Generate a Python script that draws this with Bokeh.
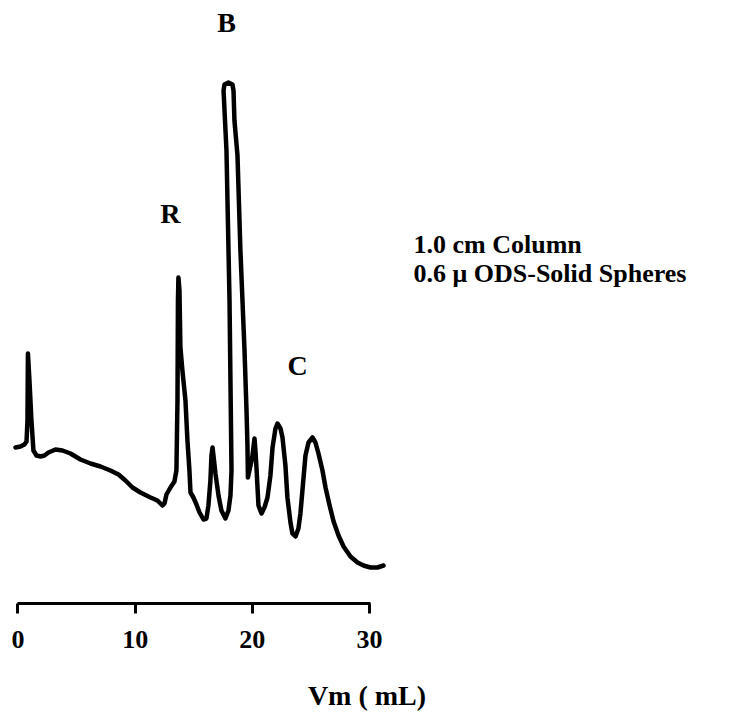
from bokeh.plotting import figure
from bokeh.models import Range1d, FixedTicker, Label, ColumnDataSource
from bokeh.embed import file_html
from bokeh.resources import INLINE

# Elution volume Vm (mL) and detector response (arbitrary units)
vm = [-0.21, 0.21, 0.55, 0.73, 0.81, 0.85, 0.98, 1.15, 1.32, 1.58, 1.92, 2.26, 2.60,
      3.20, 3.80, 4.48, 5.33, 6.19, 7.04, 7.89, 8.58, 9.17, 9.77, 10.45, 11.31, 11.90,
      12.33, 12.50, 12.67, 13.01, 13.35, 13.52, 13.61, 13.65, 13.69, 13.78, 13.86, 14.03,
      14.29, 14.46, 14.63, 14.72, 14.97, 15.23, 15.49, 15.83, 16.08, 16.25, 16.42, 16.51,
      16.60, 16.68, 16.85, 17.11, 17.36, 17.70, 17.96, 18.13, 18.22, 18.05, 17.79, 17.54,
      17.62, 17.96, 18.30, 18.39, 18.47, 18.73, 18.98, 19.33, 19.50, 19.58, 19.62, 19.84,
      20.01, 20.18, 20.26, 20.35, 20.52, 20.78, 21.03, 21.29, 21.54, 21.72, 21.97, 22.14,
      22.40, 22.57, 22.82, 22.99, 23.25, 23.42, 23.68, 23.93, 24.10, 24.27, 24.53, 24.79,
      25.13, 25.38, 25.64, 25.98, 26.24, 26.59, 26.93, 27.35, 27.78, 28.37, 28.97, 29.48,
      30.08, 30.67, 31.19]
signal = [1.56, 1.57, 1.59, 1.62, 1.83, 2.50, 2.23, 1.83, 1.53, 1.48, 1.47, 1.48, 1.51,
          1.54, 1.53, 1.50, 1.44, 1.40, 1.37, 1.33, 1.29, 1.23, 1.16, 1.11, 1.06, 1.03,
          0.98, 1.00, 1.09, 1.16, 1.22, 1.33, 2.03, 3.03, 3.26, 3.13, 2.56, 2.33,
          2.03, 1.63, 1.33, 1.11, 1.06, 0.99, 0.91, 0.84, 0.85, 0.98, 1.23, 1.48,
          1.56, 1.48, 1.30, 1.08, 0.93, 0.85, 0.93, 1.08, 1.33, 3.03, 4.53, 5.13,
          5.19, 5.21, 5.19, 5.13, 4.83, 4.48, 3.53, 2.53, 1.93, 1.58, 1.26, 1.38,
          1.48, 1.65, 1.53, 1.36, 0.98, 0.90, 0.96, 1.06, 1.28, 1.56, 1.75, 1.80,
          1.75, 1.66, 1.38, 1.06, 0.81, 0.70, 0.67, 0.75, 0.90, 1.13, 1.48, 1.61,
          1.66, 1.61, 1.50, 1.33, 1.16, 0.98, 0.82, 0.68, 0.57, 0.47, 0.41, 0.38,
          0.36, 0.36, 0.38]

x_ticks = [0, 10, 20, 30]
axis_title = "Vm ( mL)"

peak_names = ["R", "B", "C"]
peak_name_x = [13.01, 17.79, 23.85]
peak_name_y = [3.90, 5.81, 2.38]

note_lines = ["1.0 cm Column", "0.6 \u03bc ODS-Solid Spheres"]
note_x = 33.75
note_y = [3.59, 3.30]

FONT = "Liberation Serif"

p = figure(width=733, height=720,
           x_range=Range1d(-1.49, 61.05), y_range=Range1d(0, 6.03),
           output_backend="svg", toolbar_location=None,
           y_axis_location=None,
           min_border_left=0, min_border_right=0, min_border_top=0,
           min_border_bottom=117)
p.outline_line_color = None
p.grid.visible = False
p.background_fill_color = "white"
p.border_fill_color = "white"

src = ColumnDataSource(dict(x=vm, y=signal))
p.line("x", "y", source=src, line_color="black", line_width=4.5,
       line_join="round", line_cap="round")

ax = p.xaxis[0]
ax.ticker = FixedTicker(ticks=x_ticks)
ax.bounds = (0, 30.1)
ax.axis_line_width = 3
ax.axis_line_color = "black"
ax.major_tick_line_width = 3
ax.major_tick_line_color = "black"
ax.major_tick_out = 10
ax.major_tick_in = 0
ax.minor_tick_line_color = None
ax.major_label_text_font = FONT
ax.major_label_text_font_style = "bold"
ax.major_label_text_font_size = "26px"
ax.major_label_text_color = "black"
ax.major_label_standoff = 17
ax.axis_label = axis_title
ax.axis_label_text_font = FONT
ax.axis_label_text_font_style = "bold"
ax.axis_label_text_font_size = "28px"
ax.axis_label_text_color = "black"
ax.axis_label_standoff = 29

for name, lx, ly in zip(peak_names, peak_name_x, peak_name_y):
    p.add_layout(Label(x=lx, y=ly, text=name, text_font=FONT,
                       text_font_style="bold", text_font_size="28px",
                       text_align="center", text_baseline="middle",
                       text_color="black"))

for line, ly in zip(note_lines, note_y):
    p.add_layout(Label(x=note_x, y=ly, text=line, text_font=FONT,
                       text_font_style="bold", text_font_size="26px",
                       text_align="left", text_baseline="middle",
                       text_color="black"))

open("out.html", "w").write(file_html(p, INLINE))
